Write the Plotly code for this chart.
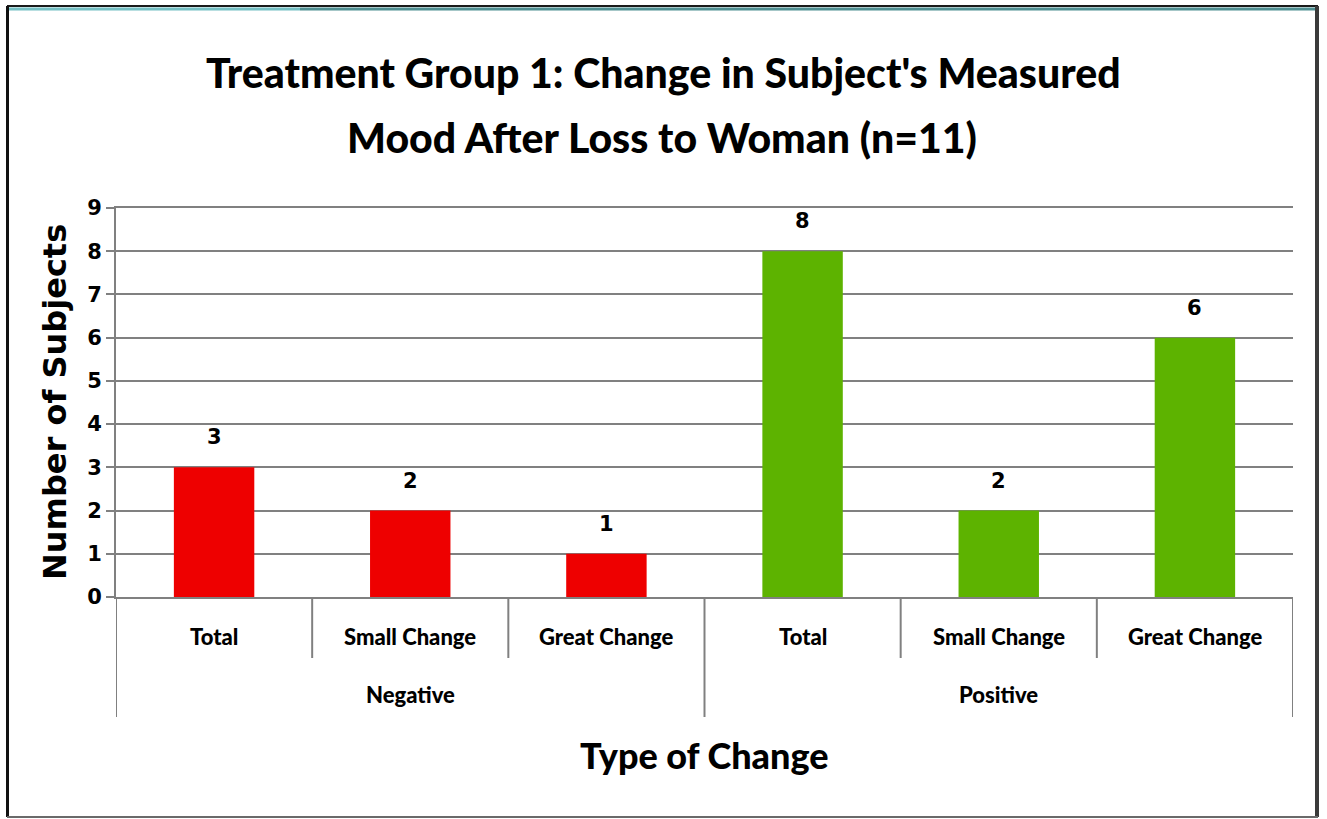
import plotly.graph_objects as go

# ---- data ----
groups = ["Negative", "Negative", "Negative", "Positive", "Positive", "Positive"]
subcats = ["Total", "Small Change", "Great Change", "Total", "Small Change", "Great Change"]
values = [3, 2, 1, 8, 2, 6]
y_ticks = [0, 1, 2, 3, 4, 5, 6, 7, 8, 9]
title_lines = ["Treatment Group 1: Change in Subject's Measured", "Mood After Loss to Woman (n=11)"]
y_title = "Number of Subjects"
x_title = "Type of Change"

RED = "#EE0000"
GREEN = "#5DB300"
GRID = "#808080"
FONT = "Lato"
WIDE = "DejaVu Sans"

W, H = 1327, 819
ML, MR, MT, MB = 116, 34, 208, 222
PW = W - ML - MR
PH = H - MT - MB


def px(xp):
    return (xp - ML) / PW


def py(yp):
    return (H - MB - yp) / PH


positions = list(range(len(values)))
colors = [RED if g == "Negative" else GREEN for g in groups]

fig = go.Figure()
fig.add_trace(go.Bar(
    x=positions, y=values, marker=dict(color=colors, line=dict(width=0)),
    width=0.41, hoverinfo="skip", showlegend=False,
))


def ann(**kw):
    base = dict(showarrow=False, xanchor="center", yanchor="middle")
    base.update(kw)
    return base


annotations = []
# value labels
for xi, v in zip(positions, values):
    annotations.append(ann(x=xi, y=v, xref="x", yref="y", text=str(v), yshift=30,
                           font=dict(family=WIDE, size=21, color="black", weight="bold")))
# subcategory labels
for xi, s in zip(positions, subcats):
    annotations.append(ann(x=xi, y=py(636), xref="x", yref="paper", text=s,
                           font=dict(family=FONT, size=22, color="black", weight=900)))
# group labels
uniq = []
for g in groups:
    if g not in uniq:
        uniq.append(g)
for g in uniq:
    idx = [i for i, gg in enumerate(groups) if gg == g]
    annotations.append(ann(x=(idx[0] + idx[-1]) / 2, y=py(694), xref="x", yref="paper", text=g,
                           font=dict(family=FONT, size=22, color="black", weight=900)))
# titles
annotations.append(ann(x=px(663), y=py(72), xref="paper", yref="paper", text=title_lines[0],
                       font=dict(family=FONT, size=41, color="black", weight=900)))
annotations.append(ann(x=px(662), y=py(137), xref="paper", yref="paper", text=title_lines[1],
                       font=dict(family=FONT, size=41, color="black", weight=900)))
annotations.append(ann(x=px(704), y=py(755), xref="paper", yref="paper", text=x_title,
                       font=dict(family=FONT, size=36, color="black", weight=900)))
annotations.append(ann(x=px(55), y=py(402), xref="paper", yref="paper", text=y_title, textangle=-90,
                       font=dict(family=WIDE, size=32, color="black", weight="bold")))

shapes = []
# dividers
for i in range(len(values) + 1):
    outer = (i == 0 or i == len(values) or groups[i] != groups[i - 1])
    shapes.append(dict(type="line", xref="x", yref="paper", x0=i - 0.5, x1=i - 0.5,
                       y0=0, y1=py(717 if outer else 658), line=dict(color=GRID, width=2)))
# page border
shapes.append(dict(type="line", xref="paper", yref="paper", x0=px(7), x1=px(1318), y0=py(6), y1=py(6),
                   line=dict(color="#1a1a1a", width=2)))
shapes.append(dict(type="line", xref="paper", yref="paper", x0=px(9), x1=px(300), y0=py(9), y1=py(9),
                   line=dict(color="#74BFC3", width=3)))
shapes.append(dict(type="line", xref="paper", yref="paper", x0=px(300), x1=px(1316), y0=py(9), y1=py(9),
                   line=dict(color="#4F8F92", width=3)))
shapes.append(dict(type="line", xref="paper", yref="paper", x0=px(7.5), x1=px(7.5), y0=py(817), y1=py(6),
                   line=dict(color="#111111", width=3)))
shapes.append(dict(type="line", xref="paper", yref="paper", x0=px(1317), x1=px(1317), y0=py(817), y1=py(6),
                   line=dict(color="#3a3a3a", width=4)))
shapes.append(dict(type="line", xref="paper", yref="paper", x0=px(7), x1=px(1318), y0=py(817), y1=py(817),
                   line=dict(color="#6a6a6a", width=2)))

fig.update_layout(
    width=W, height=H,
    margin=dict(l=ML, r=MR, t=MT, b=MB, pad=0),
    paper_bgcolor="white", plot_bgcolor="white",
    xaxis=dict(range=[-0.5, len(values) - 0.5], showticklabels=False, showgrid=False,
               zeroline=False, ticks="", showline=True, mirror=True, linecolor=GRID, linewidth=2,
               fixedrange=True),
    yaxis=dict(range=[0, 9], tickvals=y_ticks, ticks="outside", ticklen=8, tickwidth=2, tickcolor=GRID,
               showgrid=True, gridcolor=GRID, gridwidth=2, zeroline=False, showline=True,
               linecolor=GRID, linewidth=2,
               tickfont=dict(family=WIDE, size=21, color="black", weight="bold"), fixedrange=True),
    annotations=annotations, shapes=shapes, showlegend=False,
)

fig.write_html("out.html", config={"displayModeBar": False},
               post_script="document.body.style.margin='0';document.body.style.overflow='hidden';")
